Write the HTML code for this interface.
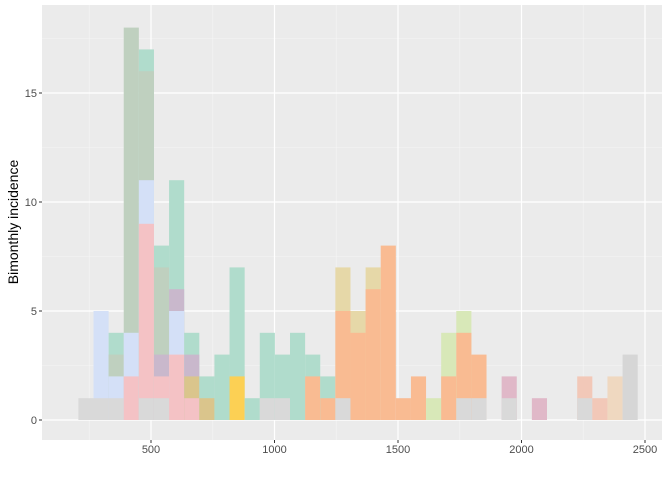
<!DOCTYPE html>
<html><head><meta charset="utf-8"><style>
body{margin:0;background:#fff;font-family:"Liberation Sans",sans-serif}
svg text{font-family:"Liberation Sans",sans-serif}
</style></head><body>
<svg id="c" width="672" height="480"></svg>
<script>
const binStart=206, binWidth=61.2;
const xTicks=[500,1000,1500,2000,2500];
const yTicks=[0,5,10,15];
const colors={g:"#d9d9d9",b:"#d4e0f7",t:"#b0dccc",gg:"#bfd0bf",p:"#f4c2c5",m:"#c9b8cc",tan:"#dac58c",y:"#fcd054",o:"#f9bb92",k:"#e6d8a8",lg:"#d8e8b8",dp:"#e0b8c8",pe:"#f2c8b8",be:"#efd8c0",g2:"#d6d6d6"};
// per bin: list of [count, colorKey] (bottom to top visible layers)
const bins=[
[[1,"g"]],
[[1,"g"],[5,"b"]],
[[1,"g"],[2,"b"],[3,"gg"],[4,"t"]],
[[2,"p"],[4,"b"],[18,"gg"]],
[[1,"g"],[9,"p"],[11,"b"],[16,"gg"],[17,"t"]],
[[1,"g"],[2,"p"],[3,"m"],[7,"gg"],[8,"t"]],
[[3,"p"],[5,"b"],[6,"m"],[11,"t"]],
[[1,"p"],[2,"tan"],[3,"m"],[4,"t"]],
[[1,"tan"],[2,"t"]],
[[3,"t"]],
[[2,"y"],[7,"t"]],
[[1,"t"]],
[[1,"g"],[4,"t"]],
[[1,"g"],[3,"t"]],
[[4,"t"]],
[[2,"o"],[3,"t"]],
[[1,"o"],[2,"t"]],
[[1,"g"],[5,"o"],[7,"k"]],
[[4,"o"],[5,"k"]],
[[6,"o"],[7,"k"]],
[[8,"o"]],
[[1,"o"]],
[[2,"o"]],
[[1,"lg"]],
[[2,"o"],[4,"lg"]],
[[1,"g"],[4,"o"],[5,"lg"]],
[[1,"g"],[3,"o"]],
[],
[[1,"g"],[2,"dp"]],
[],
[[1,"dp"]],
[],[],
[[1,"g"],[2,"pe"]],
[[1,"pe"]],
[[2,"be"]],
[[3,"g2"]]
];
const L=42,R=662,T=5,B=440;
const X=v=>151+(v-500)*0.247;
const Y=v=>420-v*21.8;
const svg=document.getElementById('c');
const NS="http://www.w3.org/2000/svg";
function el(t,a,p){const e=document.createElementNS(NS,t);for(const k in a)e.setAttribute(k,a[k]);(p||svg).appendChild(e);return e;}
const bg=el('rect',{x:L,y:T,width:R-L,height:B-T,fill:"#ebebeb"});


const grid=el('g',{});


for(let v=250;v<=2750;v+=500){const x=X(v);if(x>L&&x<R)el('line',{x1:x,x2:x,y1:T,y2:B,stroke:"#f5f5f5","stroke-width":0.6},grid);}
for(let v=2.5;v<20;v+=5){const y=Y(v);if(y>T)el('line',{x1:L,x2:R,y1:y,y2:y,stroke:"#f5f5f5","stroke-width":0.6},grid);}
xTicks.forEach(v=>el('line',{x1:X(v),x2:X(v),y1:T,y2:B,stroke:"#fff","stroke-width":1.2},grid));
yTicks.forEach(v=>el('line',{x1:L,x2:R,y1:Y(v),y2:Y(v),stroke:"#fff","stroke-width":1.2},grid));
const bars=el('g',{});


bins.forEach((segs,i)=>{
  const x0=X(binStart+i*binWidth), x1=X(binStart+(i+1)*binWidth);
  for(let j=segs.length-1;j>=0;j--){
    const [c,k]=segs[j];
    const r=el('rect',{x:x0,y:Y(c),width:x1-x0,height:Y(0)-Y(c),fill:colors[k]},bars);
    
    
  }
});
xTicks.forEach(v=>{
  el('line',{x1:X(v),x2:X(v),y1:B,y2:B+3,stroke:"#333","stroke-width":1});
  const t=el('text',{x:X(v),y:B+13,"font-size":11,fill:"#4d4d4d","text-anchor":"middle"});t.textContent=v;
  
  
});
yTicks.forEach(v=>{
  el('line',{x1:L-3,x2:L,y1:Y(v),y2:Y(v),stroke:"#333","stroke-width":1});
  const t=el('text',{x:L-5,y:Y(v)+4,"font-size":11,fill:"#4d4d4d","text-anchor":"end"});t.textContent=v;
  
  
});
const yt=el('text',{x:0,y:0,"font-size":14,fill:"#000","text-anchor":"middle",transform:"translate(18,222) rotate(-90)"});
yt.textContent="Bimonthly incidence";


</script>
</body></html>
